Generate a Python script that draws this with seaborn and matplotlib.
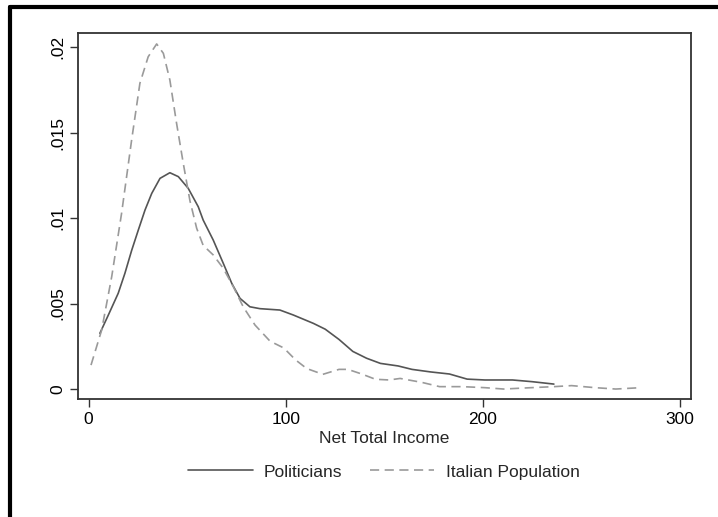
import matplotlib
matplotlib.use("Agg")
import matplotlib.pyplot as plt
from matplotlib.lines import Line2D
import seaborn as sns
import pandas as pd

# ---- data ----
pol_x = [5.7, 10, 15, 18.4, 21.8, 25.2, 28.6, 32, 36.2, 41.2, 45.5, 50.5, 55.6, 58.1,
         63.2, 68.3, 72.6, 76.8, 81.8, 86.9, 97, 103.8, 114, 120, 127, 134, 141, 148,
         157, 164, 173.5, 183, 192, 201, 215, 225, 236]
pol_y = [0.00326, 0.00433, 0.0056, 0.00677, 0.0081, 0.0093, 0.01047, 0.01144, 0.01232,
         0.01265, 0.01242, 0.01174, 0.01066, 0.00988, 0.00871, 0.00735, 0.00618, 0.0053,
         0.00481, 0.0047, 0.00462, 0.00433, 0.00384, 0.0035, 0.0029, 0.0022, 0.0018,
         0.0015, 0.00135, 0.00115, 0.0010, 0.00088, 0.00058, 0.00053, 0.00053, 0.00043,
         0.00029]

ita_x = [1.2, 6.6, 11.7, 16.7, 21.8, 26, 30.2, 34.5, 37.9, 41.2, 44.6, 48, 51.4, 54.8,
         58.1, 63.2, 68.3, 73.4, 78.4, 84.4, 92, 99, 105, 110.6, 118.8, 127, 131.5, 138.5,
         145.5, 152.5, 158, 169, 178, 189.6, 201, 210.5, 224.5, 236, 245, 257, 267.4, 280]
ita_y = [0.0014, 0.00345, 0.00657, 0.01027, 0.01456, 0.01788, 0.01943, 0.02018, 0.01963,
         0.01807, 0.01554, 0.0132, 0.0110, 0.0094, 0.0084, 0.00784, 0.00706, 0.00598,
         0.00481, 0.00374, 0.0028, 0.0024, 0.0017, 0.0012, 0.00086, 0.00115, 0.00115,
         0.00088, 0.00057, 0.00053, 0.00062, 0.00039, 0.00014, 0.00014, 0.00008, 0.0,
         0.00008, 0.00014, 0.0002, 0.00008, 0.0, 0.00008]

series_names = ["Politicians", "Italian Population"]
x_ticks = [0, 100, 200, 300]
y_ticks = [0, 0.005, 0.01, 0.015, 0.02]
y_tick_labels = ["0", ".005", ".01", ".015", ".02"]
x_label = "Net Total Income"

# ---- style ----
sns.set_style("ticks")
plt.rcParams["font.family"] = ["Liberation Sans", "DejaVu Sans"]
FS = 12.5
POL_C = "#555555"
ITA_C = "#9a9a9a"
DASH = (0, (5.5, 3.3))

fig = plt.figure(figsize=(7.18, 5.17), dpi=100)
ax = fig.add_axes([78 / 718, 1 - 399.3 / 517, (690.7 - 78) / 718, (399.3 - 33) / 517])

df_pol = pd.DataFrame({"x": pol_x, "y": pol_y})
df_ita = pd.DataFrame({"x": ita_x, "y": ita_y})

sns.lineplot(data=df_pol, x="x", y="y", ax=ax, color=POL_C, linewidth=1.2,
             estimator=None, label=series_names[0])
sns.lineplot(data=df_ita, x="x", y="y", ax=ax, color=ITA_C, linewidth=1.2,
             linestyle=DASH, estimator=None, label=series_names[1])

ax.set_xlim(-5.4, 305.4)
ax.set_ylim(-0.0006, 0.02082)
ax.set_xticks(x_ticks)
ax.set_xticklabels([str(v) for v in x_ticks], fontsize=FS)
ax.set_yticks(y_ticks)
ax.set_yticklabels(y_tick_labels, fontsize=FS, rotation=90, va="center")
ax.tick_params(axis="both", direction="out", length=6, width=1, color="#333333",
               labelcolor="black", pad=3)
for s in ax.spines.values():
    s.set_visible(True)
    s.set_color("#333333")
    s.set_linewidth(1.3)

ax.set_xlabel(x_label, fontsize=FS, labelpad=3)
ax.set_ylabel("")

ax.get_legend().remove()
handles = [Line2D([], [], color=POL_C, lw=1.2),
           Line2D([], [], color=ITA_C, lw=1.2, linestyle=DASH)]
fig.legend(handles, series_names, loc="center", bbox_to_anchor=(384 / 718, 1 - 472 / 517),
           ncol=2, frameon=False, fontsize=FS, handlelength=3.7, handletextpad=0.65,
           columnspacing=1.6)

# outer frame (top and left edges visible in the reference)
fig.add_artist(Line2D([9.5 / 718, 1.05], [1 - 7 / 517, 1 - 7 / 517], color="black",
                      lw=3, transform=fig.transFigure, clip_on=False))
fig.add_artist(Line2D([9.5 / 718, 9.5 / 718], [1 - 7 / 517, -0.05], color="black",
                      lw=3, transform=fig.transFigure, clip_on=False))

fig.savefig("out.png", dpi=100, facecolor="white")
